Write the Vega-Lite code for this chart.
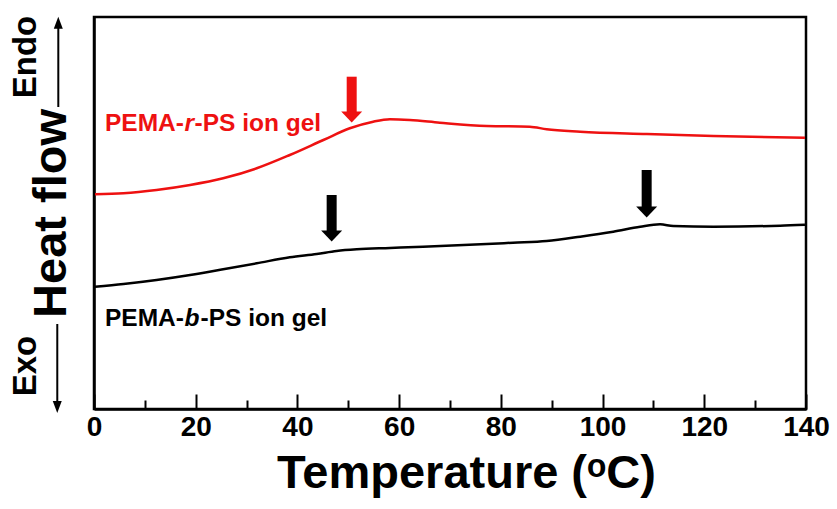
{
  "$schema": "https://vega.github.io/schema/vega-lite/v6.json",
  "width": 712,
  "height": 392,
  "autosize": {"type": "none"},
  "padding": {"left": 94, "top": 17, "right": 31, "bottom": 100},
  "background": "white",
  "config": {
    "view": {"stroke": "black", "strokeWidth": 2.5},
    "font": "Liberation Sans"
  },
  "datasets": {
    "curves": [
      {"s": "PEMA-r-PS", "T": 0.2, "hf": 214.7},
      {"s": "PEMA-r-PS", "T": 5.8, "hf": 215.7},
      {"s": "PEMA-r-PS", "T": 12.3, "hf": 219},
      {"s": "PEMA-r-PS", "T": 18.9, "hf": 224},
      {"s": "PEMA-r-PS", "T": 25.4, "hf": 230.7},
      {"s": "PEMA-r-PS", "T": 32, "hf": 240.7},
      {"s": "PEMA-r-PS", "T": 38.5, "hf": 254},
      {"s": "PEMA-r-PS", "T": 45.1, "hf": 269},
      {"s": "PEMA-r-PS", "T": 50.3, "hf": 280.7},
      {"s": "PEMA-r-PS", "T": 54.9, "hf": 287.3},
      {"s": "PEMA-r-PS", "T": 58.2, "hf": 289.7},
      {"s": "PEMA-r-PS", "T": 62.1, "hf": 289},
      {"s": "PEMA-r-PS", "T": 68, "hf": 286.3},
      {"s": "PEMA-r-PS", "T": 77.2, "hf": 283},
      {"s": "PEMA-r-PS", "T": 85.7, "hf": 282.3},
      {"s": "PEMA-r-PS", "T": 89, "hf": 279.7},
      {"s": "PEMA-r-PS", "T": 95.6, "hf": 277.3},
      {"s": "PEMA-r-PS", "T": 108.7, "hf": 275},
      {"s": "PEMA-r-PS", "T": 121.8, "hf": 273},
      {"s": "PEMA-r-PS", "T": 139.8, "hf": 271.3},
      {"s": "PEMA-b-PS", "T": 0.2, "hf": 122.3},
      {"s": "PEMA-b-PS", "T": 5.8, "hf": 125},
      {"s": "PEMA-b-PS", "T": 12.3, "hf": 129},
      {"s": "PEMA-b-PS", "T": 18.9, "hf": 134},
      {"s": "PEMA-b-PS", "T": 25.4, "hf": 139.7},
      {"s": "PEMA-b-PS", "T": 32, "hf": 145.7},
      {"s": "PEMA-b-PS", "T": 38.5, "hf": 151.7},
      {"s": "PEMA-b-PS", "T": 43.8, "hf": 155},
      {"s": "PEMA-b-PS", "T": 47.7, "hf": 158},
      {"s": "PEMA-b-PS", "T": 51.7, "hf": 159.7},
      {"s": "PEMA-b-PS", "T": 58.2, "hf": 161},
      {"s": "PEMA-b-PS", "T": 64.7, "hf": 162.3},
      {"s": "PEMA-b-PS", "T": 77.2, "hf": 165},
      {"s": "PEMA-b-PS", "T": 82.4, "hf": 166.3},
      {"s": "PEMA-b-PS", "T": 89, "hf": 168},
      {"s": "PEMA-b-PS", "T": 95.6, "hf": 172.3},
      {"s": "PEMA-b-PS", "T": 102.1, "hf": 177.3},
      {"s": "PEMA-b-PS", "T": 107.4, "hf": 182.3},
      {"s": "PEMA-b-PS", "T": 111.3, "hf": 184.7},
      {"s": "PEMA-b-PS", "T": 113.9, "hf": 183},
      {"s": "PEMA-b-PS", "T": 121.8, "hf": 182.3},
      {"s": "PEMA-b-PS", "T": 134.9, "hf": 183.3},
      {"s": "PEMA-b-PS", "T": 139.8, "hf": 184.3}
    ],
    "shafts": [
      {"s": "PEMA-r-PS", "T": 50.67, "hf": 332.3, "hf2": 296},
      {"s": "PEMA-b-PS", "T": 46.73, "hf": 214, "hf2": 178},
      {"s": "PEMA-b-PS", "T": 108.67, "hf": 239, "hf2": 201}
    ],
    "heads": [
      {"s": "PEMA-r-PS", "T": 50.67, "hf": 292.3},
      {"s": "PEMA-b-PS", "T": 46.73, "hf": 173.2},
      {"s": "PEMA-b-PS", "T": 108.67, "hf": 197.3}
    ],
    "labels": [
      {"s": "PEMA-r-PS", "T": 2.16, "hf": 278, "text": "PEMA-"},
      {"s": "PEMA-r-PS", "T": 19.76, "hf": 278, "text": "-PS ion gel"},
      {"s": "PEMA-b-PS", "T": 2.16, "hf": 83, "text": "PEMA-"},
      {"s": "PEMA-b-PS", "T": 20.94, "hf": 83, "text": "-PS ion gel"}
    ],
    "italics": [
      {"s": "PEMA-r-PS", "T": 17.8, "hf": 278, "text": "r"},
      {"s": "PEMA-b-PS", "T": 17.8, "hf": 83, "text": "b"}
    ],
    "ylines": [
      {"T": -7.02, "hf": 302, "hf2": 381},
      {"T": -7.22, "hf": 85, "hf2": 7}
    ],
    "yheads": [
      {"T": -7.02, "hf": 386.3, "dir": "up"},
      {"T": -7.22, "hf": 2, "dir": "down"}
    ],
    "ywords": [
      {"T": -13.37, "hf": 352, "text": "Endo"},
      {"T": -13.37, "hf": 43, "text": "Exo"}
    ]
  },
  "encoding": {
    "x": {
      "field": "T",
      "type": "quantitative",
      "scale": {"domain": [0, 140], "nice": false, "zero": false},
      "axis": {
        "title": "Temperature (ᵒC)",
        "values": [0, 10, 20, 30, 40, 50, 60, 70, 80, 90, 100, 110, 120, 130, 140],
        "labelExpr": "datum.value % 20 === 0 ? datum.label : ''",
        "tickSize": {"condition": {"test": "datum.value % 20 === 0", "value": -15}, "value": -9},
        "tickWidth": 2,
        "tickColor": "black",
        "domainColor": "black",
        "domainWidth": 2.5,
        "grid": false,
        "labelFont": "Liberation Sans",
        "labelFontWeight": "bold",
        "labelFontSize": 28,
        "labelColor": "black",
        "labelPadding": 19,
        "labelFlush": false,
        "labelOverlap": false,
        "titleFont": "Liberation Sans",
        "titleFontWeight": "bold",
        "titleFontSize": 47,
        "titleColor": "black",
        "titlePadding": 3,
        "titleX": 372
      }
    },
    "y": {
      "field": "hf",
      "type": "quantitative",
      "scale": {"domain": [0, 392], "nice": false, "zero": false},
      "axis": {
        "title": "Heat flow",
        "ticks": false,
        "labels": false,
        "grid": false,
        "domainColor": "black",
        "domainWidth": 2.5,
        "titleFont": "Liberation Sans",
        "titleFontWeight": "bold",
        "titleFontSize": 47,
        "titleColor": "black",
        "titlePadding": 19
      }
    }
  },
  "layer": [
    {
      "data": {"name": "curves"},
      "mark": {"type": "line", "strokeWidth": 2.5, "interpolate": "monotone"},
      "encoding": {
        "color": {"field": "s", "type": "nominal", "scale": {"domain": ["PEMA-r-PS", "PEMA-b-PS"], "range": ["#ee1111", "#000000"]}, "legend": null},
        "detail": {"field": "s"}
      }
    },
    {
      "data": {"name": "shafts"},
      "mark": {"type": "rule", "strokeWidth": 10, "strokeCap": "butt"},
      "encoding": {
        "y2": {"field": "hf2"},
        "color": {"field": "s", "type": "nominal", "legend": null}
      }
    },
    {
      "data": {"name": "heads"},
      "mark": {"type": "point", "filled": true, "opacity": 1, "size": 441, "shape": "M-1,-0.5L1,-0.5L0,0.55Z"},
      "encoding": {
        "color": {"field": "s", "type": "nominal", "legend": null}
      }
    },
    {
      "data": {"name": "labels"},
      "mark": {"type": "text", "font": "Liberation Sans", "fontWeight": "bold", "fontSize": 24.5, "align": "left", "baseline": "alphabetic"},
      "encoding": {
        "text": {"field": "text"},
        "color": {"field": "s", "type": "nominal", "legend": null}
      }
    },
    {
      "data": {"name": "italics"},
      "mark": {"type": "text", "font": "Liberation Sans", "fontWeight": "bold", "fontStyle": "italic", "fontSize": 24.5, "align": "left", "baseline": "alphabetic"},
      "encoding": {
        "text": {"field": "text"},
        "color": {"field": "s", "type": "nominal", "legend": null}
      }
    },
    {
      "data": {"name": "ylines"},
      "mark": {"type": "rule", "strokeWidth": 2, "color": "black"},
      "encoding": {"y2": {"field": "hf2"}}
    },
    {
      "data": {"name": "yheads"},
      "mark": {"type": "point", "filled": true, "opacity": 1, "size": 144, "color": "black"},
      "encoding": {
        "shape": {"field": "dir", "type": "nominal", "scale": {"domain": ["up", "down"], "range": ["M-0.75,1L0.75,1L0,-1Z", "M-0.75,-1L0.75,-1L0,1Z"]}, "legend": null}
      }
    },
    {
      "data": {"name": "ywords"},
      "mark": {"type": "text", "font": "Liberation Sans", "fontWeight": "bold", "fontSize": 33, "angle": 270, "align": "center", "baseline": "middle", "color": "black"},
      "encoding": {"text": {"field": "text"}}
    }
  ]
}
